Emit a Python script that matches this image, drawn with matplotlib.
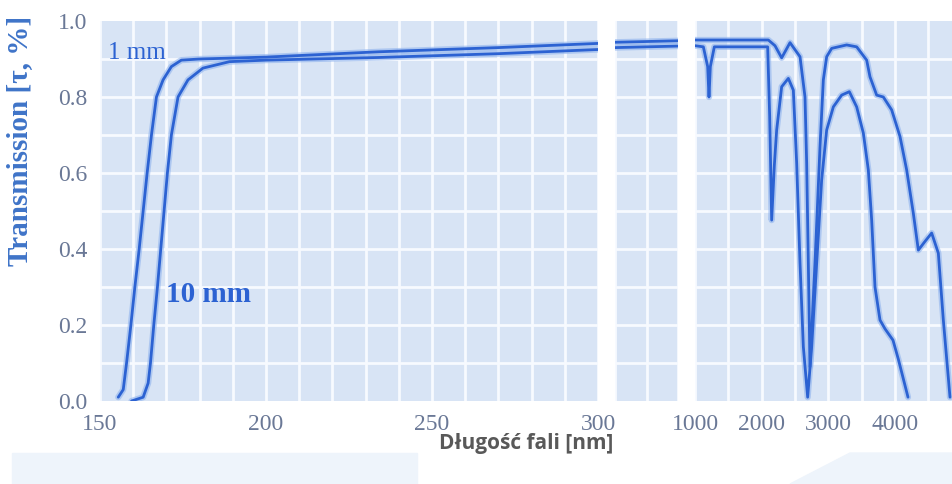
import matplotlib
matplotlib.use("Agg")
import matplotlib.pyplot as plt
from matplotlib.patches import Rectangle, Polygon

# UV edge (150-300 nm)
lam_1mm_uv = [155.5, 157, 158, 159.3, 160.5, 161.8, 163, 164.2, 165.5, 167, 169, 171.5, 174.5, 180, 200, 234, 270, 300]
t_1mm_uv = [0.01, 0.03, 0.1, 0.2, 0.3, 0.4, 0.5, 0.6, 0.7, 0.8, 0.845, 0.88, 0.897, 0.9, 0.905, 0.919, 0.93, 0.941]
lam_10mm_uv = [159.5, 163, 164.5, 165.2, 166.2, 167.3, 168.3, 169.3, 170.3, 171.5, 173.5, 176.5, 181, 189, 200, 234, 270, 300]
t_10mm_uv = [0.0, 0.01, 0.047, 0.1, 0.2, 0.3, 0.4, 0.5, 0.6, 0.7, 0.8, 0.845, 0.876, 0.893, 0.897, 0.904, 0.914, 0.925]

# visible (compressed panel)
lam_mid = [300, 1000]
t_1mm_mid = [0.944, 0.948]
t_10mm_mid = [0.930, 0.934]

# IR (1000-4800 nm)
lam_1mm_ir = [1000, 2100, 2200, 2300, 2425, 2575, 2650, 2675, 2700, 2725, 2800, 2875, 2925, 2975, 3050,
              3275, 3425, 3575, 3625, 3725, 3825, 3950, 4075, 4175, 4275, 4350, 4450, 4550, 4650, 4725, 4825]
t_1mm_ir = [0.95, 0.95, 0.935, 0.903, 0.943, 0.906, 0.80, 0.626, 0.363, 0.09, 0.363, 0.669, 0.845, 0.906, 0.928,
            0.937, 0.932, 0.897, 0.853, 0.805, 0.80, 0.766, 0.696, 0.608, 0.494, 0.397, 0.42, 0.442, 0.389, 0.213, 0.01]
lam_10mm_ir = [1000, 1125, 1190, 1210, 1230, 1290, 2090, 2120, 2150, 2190, 2225, 2300, 2400, 2475, 2525, 2575,
               2625, 2690, 2750, 2825, 2900, 2975, 3075, 3200, 3315, 3425, 3525, 3600, 3650, 3700, 3775, 3850,
               3970, 4050, 4195]
t_10mm_ir = [0.935, 0.932, 0.88, 0.80, 0.88, 0.932, 0.932, 0.75, 0.476, 0.62, 0.713, 0.827, 0.849, 0.818, 0.626, 0.363,
             0.143, 0.01, 0.143, 0.363, 0.582, 0.713, 0.774, 0.805, 0.814, 0.774, 0.705, 0.608, 0.476, 0.30, 0.213, 0.19,
             0.16, 0.11, 0.01]

y_ticks = [0.0, 0.2, 0.4, 0.6, 0.8, 1.0]
x_ticks_uv = [150, 200, 250, 300]
x_ticks_ir = [1000, 2000, 3000, 4000]

line_c = '#2c62d2'
halo_c = '#8fb3ee'
bg_c = '#d8e4f5'
tick_c = '#6a7896'
serif = ['Liberation Serif', 'DejaVu Serif']

fig = plt.figure(figsize=(9.52, 4.84), dpi=100)
W, H = 952, 484


def px_axes(x0, x1, y0=21, y1=401):
    return fig.add_axes([x0 / W, 1 - y1 / H, (x1 - x0) / W, (y1 - y0) / H])


ax1 = px_axes(100, 598)
ax2 = px_axes(615, 678)
ax3 = px_axes(695, 952)

panels = [
    (ax1, (150, 300), range(150, 301, 10), [(lam_1mm_uv, t_1mm_uv), (lam_10mm_uv, t_10mm_uv)]),
    (ax2, (300, 1000), [300, 650, 1000], [(lam_mid, t_1mm_mid), (lam_mid, t_10mm_mid)]),
    (ax3, (1000, 4855), range(1000, 4856, 500), [(lam_1mm_ir, t_1mm_ir), (lam_10mm_ir, t_10mm_ir)]),
]

for ax, xlim, vgrid, curves in panels:
    ax.set_facecolor(bg_c)
    for s in ax.spines.values():
        s.set_visible(False)
    ax.set_xlim(*xlim)
    ax.set_ylim(0, 1.0)
    for gx in vgrid:
        ax.axvline(gx, color='#f7faff', lw=2, zorder=1)
    for i in range(1, 10):
        ax.axhline(i / 10, color='#f7faff', lw=2, zorder=1)
    for lam, t in curves:
        ax.plot(lam, t, color=halo_c, lw=4.5, alpha=0.6, solid_capstyle='round', zorder=2)
        ax.plot(lam, t, color=line_c, lw=2.0, solid_capstyle='round', zorder=3)
    ax.tick_params(length=0, labelsize=17, labelcolor=tick_c, pad=9)
    ax.set_yticks([])
    ax.set_xticks([])

ax1.set_yticks(y_ticks)
ax1.set_yticklabels([f'{v:.1f}' for v in y_ticks], family=serif)
ax1.set_xticks(x_ticks_uv)
ax1.set_xticklabels([str(v) for v in x_ticks_uv], family=serif)
ax3.set_xticks(x_ticks_ir)
ax3.set_xticklabels([str(v) for v in x_ticks_ir], family=serif)

ax1.set_ylabel('Transmission [τ, %]', family=serif, fontsize=21, color='#3f74c8', fontweight='bold')
ax1.yaxis.set_label_coords(-0.134, 0.685)

ax1.text(152.5, 0.915, '1 mm', family=serif, fontsize=18, color=line_c, ha='left', va='center', zorder=4)
ax1.text(170, 0.28, '10 mm', family=serif, fontsize=21, color=line_c, ha='left', va='center',
         fontweight='bold', zorder=4)

# decorative pale bands at the bottom of the slide
fig.patches.append(Rectangle((12 / W, 0), (417 - 12) / W, 31 / H, transform=fig.transFigure,
                             color='#eef4fb', zorder=0))
fig.patches.append(Polygon([(790 / W, 0), (850 / W, 31 / H), (1, 31 / H), (1, 0)],
                           closed=True, transform=fig.transFigure, color='#eef4fb', zorder=0))

fig.text(526 / W, 1 - 443 / H, 'Długość fali [nm]', family=['Open Sans', 'DejaVu Sans'],
         fontweight='bold', fontsize=15, color='#595959', ha='center', va='center')

fig.savefig('out.png', dpi=100)
